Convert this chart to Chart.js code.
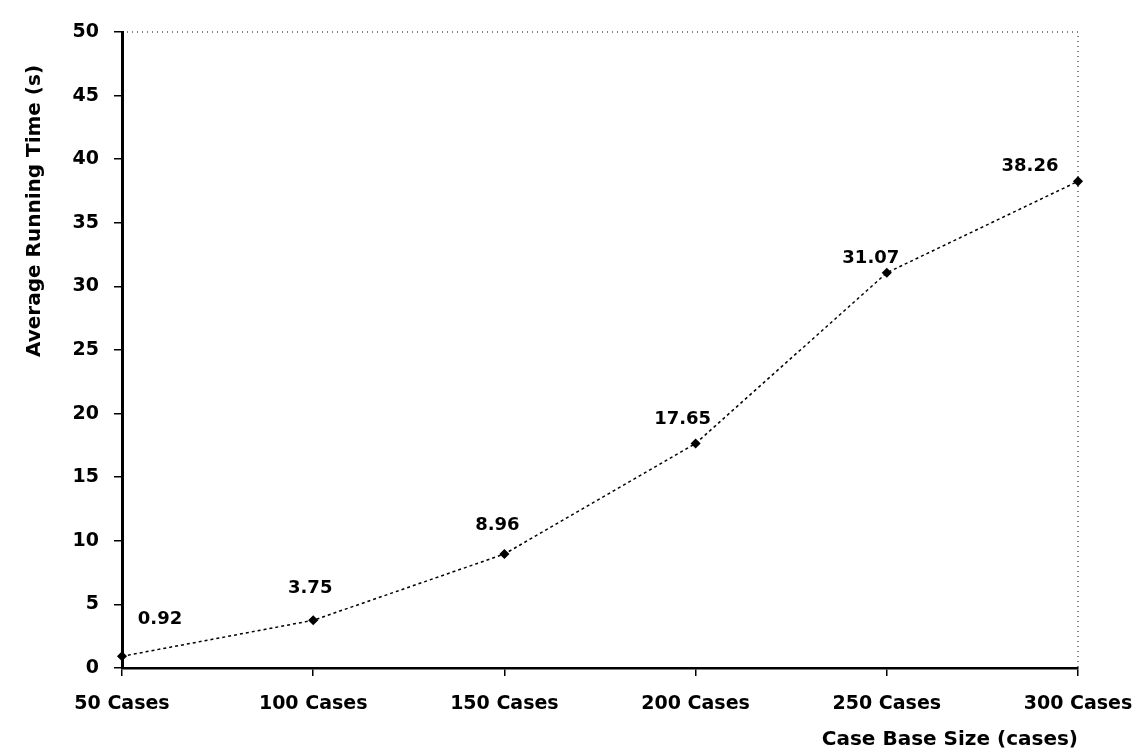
<!DOCTYPE html>
<html>
<head>
<meta charset="utf-8">
<script src="https://cdn.jsdelivr.net/npm/chart.js@4"></script>
<style>
  html, body { margin: 0; padding: 0; background: #fff; }
  #wrap { width: 1142px; height: 754px; }
</style>
</head>
<body>
<div id="wrap"><canvas id="chart" width="1142" height="754"></canvas></div>
<script>
const categories = ['50 Cases', '100 Cases', '150 Cases', '200 Cases', '250 Cases', '300 Cases'];
const runningTimes = [0.92, 3.75, 8.96, 17.65, 31.07, 38.26];
const yTicks = [0, 5, 10, 15, 20, 25, 30, 35, 40, 45, 50];
const yTitle = 'Average Running Time (s)';
const xTitle = 'Case Base Size (cases)';

const FONT = '"DejaVu Sans", Verdana, sans-serif';

// where each value label sits relative to its point (px), as placed in the original
const labelNudge = [[38, -37], [-3, -32], [-7, -29], [-13, -24], [-16, -14], [-48, -15]];

// dotted frame on top/right + value labels + axis titles
const extras = {
  id: 'extras',
  afterDatasetsDraw(chart) {
    const { ctx, chartArea: a } = chart;
    ctx.save();
    ctx.strokeStyle = '#000';
    ctx.lineWidth = 1;
    ctx.setLineDash([1, 4]);
    ctx.beginPath();
    ctx.moveTo(a.left, a.top);
    ctx.lineTo(a.right, a.top);
    ctx.lineTo(a.right, a.bottom);
    ctx.stroke();
    ctx.setLineDash([]);

    // value labels
    const meta = chart.getDatasetMeta(0);
    ctx.fillStyle = '#000';
    ctx.font = 'bold 18px ' + FONT;
    ctx.textAlign = 'center';
    ctx.textBaseline = 'middle';
    meta.data.forEach((pt, i) => {
      const n = labelNudge[i] || [0, -25];
      ctx.fillText(runningTimes[i].toFixed(2), pt.x + n[0], pt.y + n[1]);
    });

    // axis titles
    ctx.font = 'bold 20px ' + FONT;
    ctx.save();
    ctx.translate(35, 211);
    ctx.rotate(-Math.PI / 2);
    ctx.fillText(yTitle, 0, 0);
    ctx.restore();
    ctx.textAlign = 'right';
    ctx.fillText(xTitle, a.right, 740);
    ctx.restore();
  }
};

new Chart(document.getElementById('chart'), {
  type: 'line',
  data: {
    labels: categories,
    datasets: [{
      data: runningTimes,
      borderColor: '#000',
      borderWidth: 1.5,
      borderDash: [3, 3],
      pointStyle: 'rectRot',
      pointRadius: 4,
      pointBackgroundColor: '#000',
      pointBorderColor: '#000',
      tension: 0
    }]
  },
  options: {
    responsive: false,
    animation: false,
    layout: { padding: { left: 0, right: 64, top: 32, bottom: 0 } },
    plugins: { legend: { display: false }, tooltip: { enabled: false } },
    scales: {
      x: {
        offset: false,
        grid: { drawOnChartArea: false, color: '#000', tickLength: 8, lineWidth: 1.5 },
        border: { color: '#000', width: 2.5 },
        ticks: { color: '#000', font: { family: FONT, size: 19, weight: 'bold' }, maxRotation: 0, autoSkip: false, padding: 17 },
        afterFit: s => { s.height = 86; s.paddingLeft = 0; s.paddingRight = 0; }
      },
      y: {
        min: 0,
        max: 50,
        afterBuildTicks: s => { s.ticks = yTicks.map(v => ({ value: v })); },
        grid: { drawOnChartArea: false, color: '#000', tickLength: 8, lineWidth: 1.5 },
        border: { color: '#000', width: 3 },
        ticks: { color: '#000', font: { family: FONT, size: 19, weight: 'bold' }, padding: 15 },
        afterFit: s => { s.width = 122; s.paddingTop = 0; s.paddingBottom = 0; }
      }
    }
  },
  plugins: [extras]
});
</script>
</body>
</html>
